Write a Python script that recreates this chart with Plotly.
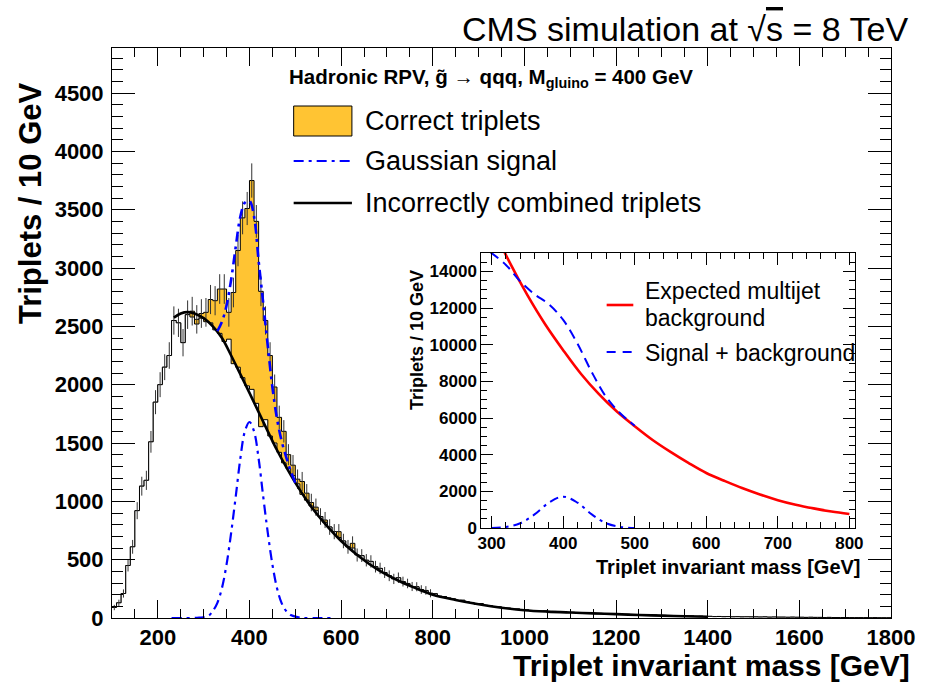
import plotly.graph_objects as go

FONT = "Liberation Sans, Arial, Helvetica, sans-serif"

# ---------------- data ----------------
bin_width = 10
bin_low = list(range(100, 1800, 10))          # 170 bins, 100..1790

incorrect = [
    90, 130, 210, 450, 610, 920, 1130, 1180, 1510, 1850,        # 100-190
    2000, 2150, 2250, 2550, 2530, 2360, 2600, 2580, 2520, 2570, # 200-290
    2540, 2530, 2470, 2440, 2370, 2390, 2180, 2150, 2060, 1990, # 300-390
    1960, 1840, 1640, 1700, 1560, 1500, 1420, 1330, 1280, 1220, # 400-490
    1150, 1060, 1010, 960, 920, 870, 820, 780, 740, 690,        # 500-590
    660, 610, 600, 540, 535, 495, 485, 440, 425, 390,           # 600-690
    362, 335, 345, 312, 296, 270, 268, 244, 236, 212,           # 700-790
    208, 186, 184, 170, 163, 150, 152, 138, 133, 118,           # 800-890
    124, 108, 106, 98, 95, 86, 84, 76, 77, 68,                  # 900-990
    68, 62, 64, 58, 60, 54, 56, 50, 53, 46,                     # 1000-1090
    48, 43, 45, 40, 42, 37, 39, 35, 36, 32,                     # 1100-1190
    33, 30, 31, 27, 28, 25, 26, 23, 24, 21,                     # 1200-1290
    22, 19, 20, 17, 18, 16, 17, 14, 15, 13,                     # 1300-1390
    14, 12, 13, 11, 12, 10, 11, 9, 10, 9,                       # 1400-1490
    9, 8, 9, 7, 8, 7, 7, 6, 7, 6,                               # 1500-1590
    6, 5, 6, 5, 5, 4, 5, 4, 4, 4,                               # 1600-1690
    4, 3, 3, 3, 3, 2, 3, 2, 2, 2,                               # 1700-1790
]

correct_bins = [270, 280, 290, 300, 310, 320, 330, 340, 350, 360, 370, 380, 390,
                400, 410, 420, 430, 440, 450, 460, 470, 480, 490, 500, 510, 520,
                530, 540, 560, 590, 620]
correct_vals = [50, 40, 40, 80, 200, 250, 380, 450, 230, 610, 1000, 1370, 1520,
                1790, 1560, 1160, 850, 690, 480, 300, 270, 120, 90, 40, 110, 60,
                30, 30, 20, 50, 40]

# statistical uncertainties of the stacked histogram (bins 100..790)
total_err = [
    23, 27, 35, 51, 59, 73, 81, 82, 93, 103,
    107, 111, 114, 121, 121, 117, 122, 123, 122, 123,
    123, 125, 125, 127, 127, 123, 127, 135, 141, 142,
    147, 140, 127, 121, 114, 107, 100, 96, 90, 87,
    83, 82, 78, 75, 74, 71, 69, 67, 65, 65,
    62, 59, 60, 56, 55, 53, 53, 50, 49, 47,
    46, 44, 45, 42, 41, 39, 39, 37, 37, 35,
]

# fitted curve for incorrectly combined triplets
fit_x = [235, 250, 265, 280, 300, 320, 340, 360, 380, 400, 420, 440, 460, 480, 500,
         530, 560, 600, 640, 680, 720, 760, 800, 850, 900, 950, 1000, 1050, 1100,
         1150, 1200, 1250, 1300, 1350, 1400]
fit_y = [2575, 2610, 2622, 2610, 2570, 2500, 2400, 2250, 2090, 1930, 1765, 1600, 1440,
         1295, 1160, 980, 830, 660, 525, 415, 330, 260, 200, 155, 118, 88, 67, 55, 47,
         40, 33, 26, 20, 15, 11]

# Gaussian signal
gaus_x = [230, 260, 290, 310, 320, 330, 340, 350, 360, 370, 380, 390, 400, 410, 420,
          430, 440, 450, 460, 470, 480, 490, 510, 540, 580]
gaus_y = [0, 0, 3, 17, 60, 130, 258, 460, 730, 1040, 1365, 1600, 1680, 1600, 1365,
          1040, 730, 460, 258, 130, 60, 25, 3, 0, 0]

# Gaussian + fit
sum_x = [330, 340, 350, 360, 370, 380, 390, 400, 410, 420, 430, 440, 450, 460, 470,
         480, 490, 500]
sum_y = [2460, 2540, 2680, 2900, 3180, 3440, 3560, 3575, 3440, 3060, 2700, 2330, 1980,
         1710, 1520, 1380, 1260, 1160]

# inset curves
bkg_x = [300, 325, 350, 375, 400, 425, 450, 475, 500, 525, 550, 575, 600, 625, 650,
         675, 700, 725, 750, 775, 800]
bkg_y = [16500, 14500, 12700, 11100, 9700, 8400, 7300, 6350, 5550, 4800, 4150, 3550,
         3000, 2580, 2180, 1830, 1520, 1270, 1070, 900, 760]
sb_x = [298, 320, 340, 360, 380, 400, 420, 440, 460, 480, 500]
sb_y = [15050, 14350, 13450, 12750, 12200, 11350, 10050, 8500, 7150, 6250, 5580]
sig_x = [300, 320, 340, 360, 380, 400, 420, 440, 460, 480, 500]
sig_y = [0, 60, 260, 740, 1380, 1710, 1380, 740, 260, 60, 0]

# ---------------- derived (stack) ----------------
correct = [0] * len(bin_low)
for b, v in zip(correct_bins, correct_vals):
    correct[bin_low.index(b)] = v
total = [i + c for i, c in zip(incorrect, correct)]
edges = bin_low + [bin_low[-1] + bin_width]
centers = [b + bin_width / 2 for b in bin_low]

YELLOW = "#FFC433"
BLUE = "#0000FF"

fig = go.Figure()
fig.add_trace(go.Scatter(x=edges, y=total + [total[-1]], line_shape="hv", mode="lines",
                         fill="tozeroy", fillcolor=YELLOW, line=dict(color="black", width=1)))
fig.add_trace(go.Scatter(x=edges, y=incorrect + [incorrect[-1]], line_shape="hv", mode="lines",
                         fill="tozeroy", fillcolor="white", line=dict(color="black", width=1)))
nerr = len(total_err)
fig.add_trace(go.Scatter(x=centers[:nerr], y=total[:nerr], mode="markers",
                         marker=dict(size=1, color="rgba(0,0,0,0)"),
                         error_y=dict(type="data", array=total_err, width=0, thickness=1,
                                      color="#333333")))
fig.add_trace(go.Scatter(x=fit_x, y=fit_y, mode="lines", line_shape="spline",
                         line=dict(color="black", width=2.6)))
fig.add_trace(go.Scatter(x=gaus_x, y=gaus_y, mode="lines", line_shape="spline",
                         line=dict(color=BLUE, width=2.2, dash="10px,5px,3px,5px")))
fig.add_trace(go.Scatter(x=sum_x, y=sum_y, mode="lines", line_shape="spline",
                         line=dict(color=BLUE, width=2.6, dash="10px,5px,3px,5px")))

# inset
fig.add_trace(go.Scatter(x=bkg_x, y=bkg_y, xaxis="x2", yaxis="y2", mode="lines",
                         line_shape="spline", line=dict(color="#FF0000", width=2.6)))
fig.add_trace(go.Scatter(x=sb_x, y=sb_y, xaxis="x2", yaxis="y2", mode="lines",
                         line_shape="spline", line=dict(color=BLUE, width=2, dash="10px,6px")))
fig.add_trace(go.Scatter(x=sig_x, y=sig_y, xaxis="x2", yaxis="y2", mode="lines",
                         line_shape="spline", line=dict(color=BLUE, width=2,
                                                        dash="9px,5px,3px,5px")))

# ---------------- layout ----------------
L, R, T, B = 112, 26, 48, 67
W, H = 927, 685
PW, PH = W - L - R, H - T - B


def px(xp):
    return (xp - L) / PW


def py(yp):
    return (H - B - yp) / PH


def axis_common(tl, size):
    return dict(ticks="inside", ticklen=tl, tickwidth=1, tickcolor="black",
                showline=True, linecolor="black", linewidth=1, mirror="allticks",
                showgrid=False, zeroline=False, tickformat="d",
                tickfont=dict(family=FONT, size=size, color="black", weight="bold"))


xa = axis_common(18, 22)
xa.update(range=[100, 1800], tick0=0, dtick=200,
          minor=dict(dtick=50, ticklen=9, tickwidth=1, tickcolor="black", ticks="inside"))
ya = axis_common(23, 22)
ya.update(range=[0, 4886], tick0=0, dtick=500, ticklabelstandoff=3,
          minor=dict(dtick=100, ticklen=11, tickwidth=1, tickcolor="black", ticks="inside"))
xa2 = axis_common(12, 17)
xa2.update(domain=[px(486), px(865)], anchor="y2", range=[285.5, 808.5], tick0=0, dtick=100,
           minor=dict(dtick=20, ticklen=6, tickwidth=1, tickcolor="black", ticks="inside"))
ya2 = axis_common(12, 17)
ya2.update(domain=[py(528), py(253)], anchor="x2", range=[0, 15000], tick0=0, dtick=2000,
           minor=dict(dtick=500, ticklen=6, tickwidth=1, tickcolor="black", ticks="inside"))

ann = []


def text(t, x, y, size, xanchor="left", yanchor="middle", angle=0):
    ann.append(dict(text=t, x=px(x), y=py(y), xref="paper", yref="paper", showarrow=False,
                    xanchor=xanchor, yanchor=yanchor, textangle=angle,
                    font=dict(family=FONT, size=size, color="black")))


text("CMS simulation at √<span style='text-decoration:overline'>s</span> = 8 TeV",
     920, 29, 34, xanchor="right")
text("<b>Triplets / 10 GeV</b>", 30, 80, 31, xanchor="center", yanchor="top", angle=-90)
text("<b>Triplet invariant mass [GeV]</b>", 922, 665, 30, xanchor="right")
text("<b>Hadronic RPV, g̃ → qqq, M<sub>gluino</sub> = 400 GeV</b>", 289, 78, 20.5)
text("Correct triplets", 366, 121, 27)
text("Gaussian signal", 366, 161, 27)
text("Incorrectly combined triplets", 366, 203, 27)
text("Expected multijet", 650, 291, 23)
text("background", 650, 318, 23)
text("Signal + background", 650, 353, 23)
text("<b>Triplet invariant mass [GeV]</b>", 873, 567, 20, xanchor="right")
text("<b>Triplets / 10 GeV</b>", 421, 268, 18, xanchor="center", yanchor="top", angle=-90)

shapes = [
    dict(type="rect", xref="paper", yref="paper", x0=px(296), x1=px(355), y0=py(136), y1=py(106),
         fillcolor=YELLOW, line=dict(color="black", width=1)),
    dict(type="line", xref="paper", yref="paper", x0=px(296), x1=px(355), y0=py(161), y1=py(161),
         line=dict(color=BLUE, width=2.2, dash="10px,5px,3px,5px")),
    dict(type="line", xref="paper", yref="paper", x0=px(296), x1=px(355), y0=py(203), y1=py(203),
         line=dict(color="black", width=2.6)),
    dict(type="line", xref="paper", yref="paper", x0=px(613), x1=px(640), y0=py(305), y1=py(305),
         line=dict(color="#FF0000", width=2.6)),
    dict(type="line", xref="paper", yref="paper", x0=px(613), x1=px(641), y0=py(352), y1=py(352),
         line=dict(color=BLUE, width=2, dash="9px,7px")),
]

fig.update_layout(width=W, height=H, margin=dict(l=L, r=R, t=T, b=B),
                  paper_bgcolor="white", plot_bgcolor="white", showlegend=False,
                  font=dict(family=FONT, color="black"),
                  xaxis=xa, yaxis=ya, xaxis2=xa2, yaxis2=ya2,
                  annotations=ann, shapes=shapes)

fig.write_html("out.html")
